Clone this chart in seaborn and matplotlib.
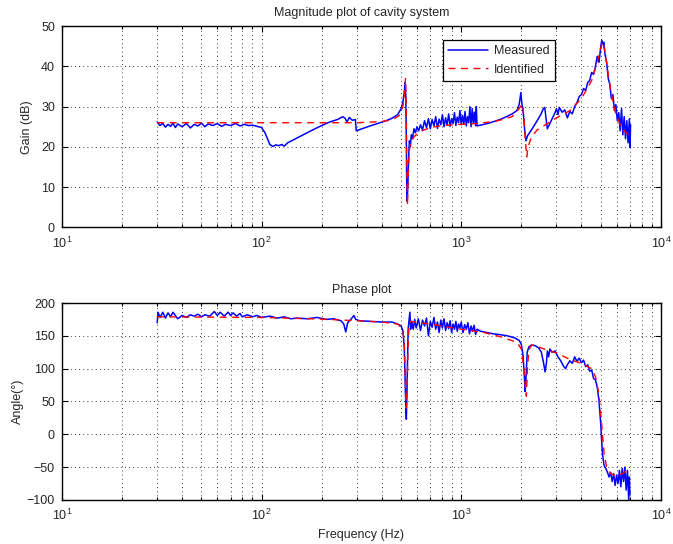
import matplotlib
matplotlib.use("Agg")
import matplotlib.pyplot as plt
import matplotlib.ticker as mticker
import seaborn as sns
import pandas as pd

sns.set_style("ticks")
plt.rcParams['font.family'] = ['Liberation Sans', 'DejaVu Sans']
plt.rcParams['mathtext.fontset'] = 'custom'
plt.rcParams['mathtext.rm'] = 'Liberation Sans'
plt.rcParams['mathtext.it'] = 'Liberation Sans'

# ---------------- data ----------------
mag_meas_f = [30, 31, 32, 33, 34, 35, 36, 37, 38, 40, 42, 44, 46, 48, 50, 52, 54, 57, 60, 63,
              66, 70, 74, 78, 82, 86, 90, 95, 100, 104, 107, 110, 114, 118, 122, 126, 130, 135,
              145, 160, 180, 200, 220, 240, 255, 262, 268, 275, 285, 295, 298, 310, 340, 380,
              420, 450, 480, 500, 510, 518, 524, 527, 530, 533, 536, 540, 545, 550, 556, 562,
              570, 580, 590, 600, 612, 625, 640, 655, 670, 685, 700, 715, 730, 745, 760, 775,
              790, 805, 820, 835, 850, 865, 880, 895, 910, 925, 940, 955, 970, 985, 1000, 1015,
              1030, 1045, 1060, 1075, 1090, 1105, 1120, 1135, 1150, 1165, 1180, 1190, 1200,
              1300, 1400, 1500, 1600, 1700, 1800, 1900, 1950, 1990, 2010, 2050, 2080, 2110,
              2150, 2200, 2300, 2400, 2500, 2580, 2620, 2660, 2700, 2760, 2850, 2950, 3000,
              3050, 3100, 3200, 3300, 3400, 3500, 3600, 3700, 3800, 3900, 4000, 4100, 4200,
              4300, 4400, 4500, 4600, 4700, 4800, 4900, 5000, 5060, 5120, 5180, 5250, 5350,
              5450, 5550, 5650, 5750, 5850, 5950, 6050, 6150, 6250, 6350, 6450, 6550, 6650,
              6750, 6850, 6950, 7000, 7050]
mag_meas_db = [26.2, 25.3, 25.8, 24.9, 25.6, 25.1, 25.9, 24.8, 25.7, 25.0, 25.8, 24.7, 25.6,
               25.2, 25.9, 25.0, 25.7, 25.3, 25.8, 25.1, 25.6, 25.3, 25.8, 25.2, 25.6, 25.3,
               25.4, 25.1, 24.8, 23.5, 22.0, 20.6, 20.1, 20.5, 20.3, 20.6, 20.2, 21.0, 21.8,
               22.9, 24.2, 25.3, 26.2, 26.8, 27.5, 27.1, 26.2, 27.3, 26.6, 26.8, 24.0, 24.3,
               25.0, 25.8, 26.5, 27.1, 28.0, 29.5, 31.0, 33.5, 36.0, 34.0, 25.0, 12.0, 6.5,
               10.0, 17.0, 21.5, 20.0, 23.0, 22.0, 24.5, 23.5, 25.0, 24.0, 25.5, 24.2, 26.5,
               24.8, 27.0, 24.5, 26.8, 25.2, 27.5, 24.6, 26.9, 25.5, 28.0, 25.0, 27.2, 25.4,
               28.2, 25.1, 27.0, 25.8, 28.5, 25.3, 27.4, 26.0, 29.0, 25.5, 27.8, 25.6, 28.8,
               25.2, 27.5, 26.0, 30.0, 25.0, 29.5, 25.8, 28.6, 25.3, 30.0, 25.2, 25.6, 26.0,
               26.5, 27.0, 27.6, 28.2, 29.0, 30.5, 33.5, 31.0, 28.0, 24.0, 21.5, 22.8, 23.5,
               25.0, 26.5, 28.0, 29.5, 29.8, 27.0, 24.5, 25.5, 27.0, 28.5, 29.5, 28.0, 29.8,
               28.6, 29.2, 27.2, 28.8, 28.2, 30.0, 31.0, 32.5, 33.0, 34.5, 34.0, 36.0, 36.5,
               38.5, 38.0, 40.0, 42.5, 41.0, 45.0, 46.5, 45.5, 46.0, 43.0, 41.0, 37.0, 35.5,
               32.0, 33.0, 29.0, 30.5, 26.5, 28.5, 24.0, 29.5, 23.0, 27.5, 22.0, 26.5, 21.0,
               27.0, 19.8, 25.5]

mag_id_f = [30, 100, 200, 300, 400, 450, 490, 510, 520, 526, 530, 534, 538, 542, 548, 556,
            580, 620, 700, 800, 1000, 1200, 1500, 1800, 1950, 2030, 2070, 2100, 2130, 2160,
            2250, 2400, 2700, 3000, 3500, 4000, 4500, 4800, 5000, 5100, 5250, 5450, 5700,
            6000, 6400, 7000]
mag_id_db = [26.0, 26.0, 26.0, 26.0, 26.3, 26.7, 27.8, 30.0, 33.0, 37.0, 30.0, 15.0, 5.5,
             12.0, 18.5, 21.0, 22.5, 23.8, 24.8, 25.3, 25.6, 25.8, 26.4, 27.5, 29.5, 30.8,
             26.0, 21.0, 17.5, 20.0, 22.5, 24.2, 25.8, 27.2, 29.0, 32.0, 36.5, 41.0, 44.5,
             46.2, 43.5, 38.0, 32.0, 27.5, 24.5, 22.5]

ph_meas_f = [30, 30.3, 31, 32, 33, 34, 35, 36, 38, 40, 42, 44, 46, 48, 50, 52, 55, 58, 60, 62,
             65, 68, 70, 72, 75, 78, 80, 85, 90, 95, 100, 110, 120, 130, 140, 150, 170, 190,
             210, 230, 250, 258, 264, 270, 280, 290, 296, 310, 350, 400, 450, 480, 500, 510,
             518, 524, 528, 531, 534, 538, 542, 548, 553, 558, 565, 575, 585, 595, 610, 625,
             640, 655, 670, 685, 700, 715, 730, 745, 760, 775, 790, 805, 820, 835, 850, 865,
             880, 895, 910, 925, 940, 955, 970, 985, 1000, 1020, 1040, 1060, 1080, 1100, 1120,
             1140, 1160, 1180, 1200, 1250, 1350, 1450, 1550, 1700, 1850, 1950, 2000, 2040,
             2070, 2090, 2110, 2140, 2180, 2250, 2350, 2450, 2520, 2580, 2630, 2670, 2700,
             2740, 2780, 2850, 2950, 3050, 3150, 3250, 3330, 3400, 3500, 3600, 3700, 3800,
             3900, 4000, 4100, 4200, 4300, 4400, 4500, 4600, 4700, 4800, 4900, 5000, 5050,
             5100, 5150, 5200, 5300, 5400, 5500, 5600, 5700, 5800, 5900, 6000, 6100, 6200,
             6300, 6400, 6500, 6600, 6700, 6800, 6900, 6950, 7000]
ph_meas_deg = [170, 186, 178, 186, 177, 185, 179, 186, 176, 181, 178, 182, 180, 183, 179, 182,
               180, 187, 181, 186, 180, 186, 181, 185, 180, 184, 179, 182, 179, 181, 178, 180,
               177, 179, 176, 177, 176, 178, 175, 176, 173, 168, 156, 170, 175, 181, 175, 173,
               172, 171, 171, 168, 165, 158, 135, 80, 40, 23, 55, 110, 160, 175, 186, 160,
               172, 160, 175, 162, 176, 158, 174, 165, 177, 150, 172, 163, 178, 160, 171, 155,
               174, 162, 176, 158, 170, 161, 173, 155, 168, 160, 172, 157, 168, 162, 171, 155,
               167, 160, 170, 153, 165, 157, 166, 152, 160, 157, 155, 153, 152, 150, 147, 143,
               137, 120, 90, 65, 85, 125, 133, 136, 135, 131, 125, 110, 95, 108, 127, 118, 130,
               125, 127, 118, 112, 104, 100, 106, 112, 108, 118, 111, 116, 109, 113, 103, 106,
               96, 98, 85, 83, 72, 50, 15, -10, -30, -40, -48, -52, -58, -65, -58, -72, -60,
               -78, -62, -75, -55, -80, -52, -72, -50, -85, -55, -100, -65, -92]

ph_id_f = [30, 100, 200, 300, 400, 480, 510, 520, 526, 530, 534, 540, 548, 560, 700, 1000,
           1300, 1600, 1900, 2000, 2060, 2100, 2120, 2145, 2180, 2250, 2400, 2700, 3000, 3500,
           4000, 4500, 4700, 4900, 5000, 5100, 5200, 5350, 5600, 6000, 6400, 6800]
ph_id_deg = [179, 178, 175.5, 173, 171, 168, 160, 130, 70, 40, 50, 120, 168, 172, 168, 160,
             155, 148, 140, 130, 100, 70, 58, 100, 128, 136, 134, 128, 124, 114, 108, 100, 88,
             60, 30, 0, -30, -50, -60, -63, -60, -55]

mag_meas = pd.DataFrame({"f": mag_meas_f, "v": mag_meas_db})
mag_id = pd.DataFrame({"f": mag_id_f, "v": mag_id_db})
ph_meas = pd.DataFrame({"f": ph_meas_f, "v": ph_meas_deg})
ph_id = pd.DataFrame({"f": ph_id_f, "v": ph_id_deg})

# ---------------- figure ----------------
fig = plt.figure(figsize=(6.73, 5.44), dpi=100)
ax1 = fig.add_axes([0.092, 0.582, 0.890, 0.370])
ax2 = fig.add_axes([0.092, 0.081, 0.890, 0.362])

FS = 9

def style(ax, ylim, yticks):
    ax.set_xscale("log")
    ax.set_xlim(10, 10000)
    ax.set_ylim(*ylim)
    ax.set_yticks(yticks)
    ax.xaxis.set_major_locator(mticker.LogLocator(base=10, numticks=10))
    ax.xaxis.set_minor_locator(mticker.LogLocator(base=10, subs=range(2, 10), numticks=10))
    ax.xaxis.set_minor_formatter(mticker.NullFormatter())
    ax.grid(True, which="major", axis="both", linestyle=(0, (1, 4)), color="black", linewidth=0.6)
    ax.grid(True, which="minor", axis="x", linestyle=(0, (1, 4)), color="black", linewidth=0.6)
    ax.tick_params(which="both", direction="in", top=True, right=True, labelsize=FS,
                   width=0.8, color="black")
    ax.tick_params(which="major", length=4.5)
    ax.tick_params(which="minor", length=2.5)
    ax.tick_params(axis="x", which="both", pad=6)
    ax.tick_params(axis="y", which="both", pad=5)
    for s in ax.spines.values():
        s.set_linewidth(1.0)
        s.set_color("black")
    ax.set_axisbelow(True)

sns.lineplot(data=mag_meas, x="f", y="v", ax=ax1, color="#0000FF", linewidth=1.1,
             estimator=None, sort=False, label="Measured")
sns.lineplot(data=mag_id, x="f", y="v", ax=ax1, color="#FF0000", linewidth=1.0,
             estimator=None, sort=False, label="Identified", linestyle=(0, (5, 4)))
style(ax1, (0, 50), [0, 10, 20, 30, 40, 50])
ax1.set_title("Magnitude plot of cavity system", fontsize=FS, pad=7)
ax1.set_ylabel("Gain (dB)", fontsize=FS, labelpad=6)
ax1.set_xlabel("")
leg = ax1.legend(loc="upper right", bbox_to_anchor=(0.833, 0.96), fontsize=FS, frameon=True,
                 fancybox=False, framealpha=1, edgecolor="black", handlelength=3.2,
                 borderpad=0.4, labelspacing=0.5, handletextpad=0.5)
leg.get_frame().set_linewidth(0.9)

sns.lineplot(data=ph_meas, x="f", y="v", ax=ax2, color="#0000FF", linewidth=1.1,
             estimator=None, sort=False, legend=False)
sns.lineplot(data=ph_id, x="f", y="v", ax=ax2, color="#FF0000", linewidth=1.0,
             estimator=None, sort=False, legend=False, linestyle=(0, (5, 4)))
style(ax2, (-100, 200), [-100, -50, 0, 50, 100, 150, 200])
ax2.set_title("Phase plot", fontsize=FS, pad=7)
ax2.set_ylabel("Angle(°)", fontsize=FS, labelpad=2)
ax2.set_xlabel("Frequency (Hz)", fontsize=FS, labelpad=4)

fig.savefig("out.png", dpi=100)
